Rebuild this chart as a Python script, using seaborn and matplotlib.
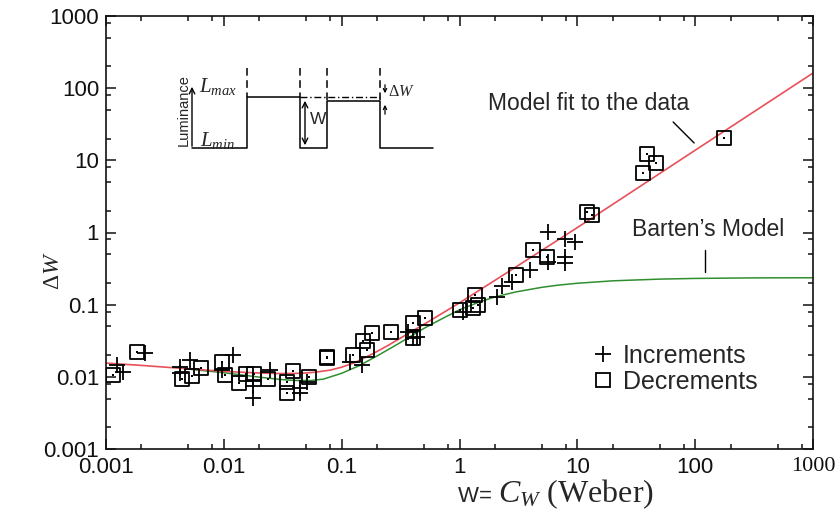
import numpy as np
import pandas as pd
import seaborn as sns
import matplotlib.pyplot as plt
from matplotlib.lines import Line2D
from matplotlib.ticker import LogLocator, NullFormatter

sns.set_style("ticks")
plt.rcParams['font.family'] = ['Liberation Sans', 'DejaVu Sans']
plt.rcParams['mathtext.fontset'] = 'custom'
plt.rcParams['mathtext.rm'] = 'Liberation Serif'
plt.rcParams['mathtext.it'] = 'Liberation Serif:italic'

# model curves
red_w = [0.001, 0.002, 0.005, 0.01, 0.02, 0.03, 0.045, 0.06, 0.08, 0.1, 0.13, 0.185, 0.25,
         0.35, 0.5, 0.7, 1, 2.2, 10, 100, 1000]
red_dw = [0.0155, 0.0144, 0.0129, 0.0119, 0.0113, 0.0111, 0.0112, 0.0116, 0.0124, 0.0136, 0.0158, 0.021, 0.0275,
          0.038, 0.0535, 0.0745, 0.106, 0.24, 1.17, 13.8, 162]
green_w = [0.005, 0.01, 0.015, 0.02, 0.03, 0.04, 0.055, 0.07, 0.1, 0.14, 0.2, 0.3, 0.5, 0.7, 1,
           1.5, 2, 3, 5, 7, 10, 20, 50, 100, 300, 1000]
green_dw = [0.0128, 0.0114, 0.0105, 0.0099, 0.0092, 0.0089, 0.0089, 0.0093, 0.0112, 0.0142, 0.0195, 0.0285, 0.047, 0.063, 0.085,
            0.11, 0.128, 0.15, 0.174, 0.187, 0.198, 0.214, 0.226, 0.231, 0.235, 0.236]

# decrements (squares)
dec_w = [0.00115, 0.00183, 0.00442, 0.00537, 0.0064, 0.00966, 0.0102, 0.01346, 0.0154, 0.018,
         0.0237, 0.0344, 0.0344, 0.0386, 0.0528, 0.0752, 0.0752, 0.125, 0.152, 0.181,
         0.164, 0.262, 0.404, 0.51, 0.404, 1.01, 1.36, 1.44, 1.30, 3.02,
         4.22, 5.54, 12.1, 13.4, 36.2, 39.2, 46.7, 176]
dec_dw = [0.0107, 0.0222, 0.0094, 0.0103, 0.0133, 0.0161, 0.0107, 0.00826, 0.0110, 0.0110,
          0.0094, 0.00853, 0.0060, 0.0121, 0.0100, 0.0183, 0.0190, 0.0202, 0.0315, 0.0407,
          0.0237, 0.042, 0.056, 0.0656, 0.0347, 0.0847, 0.137, 0.099, 0.090, 0.259,
          0.574, 0.459, 1.93, 1.75, 6.69, 12.3, 9.2, 20.4]

# increments (plus signs)
inc_w = [0.00124, 0.00139, 0.00214, 0.00425, 0.00425, 0.00516, 0.012, 0.00966, 0.0177, 0.0177,
         0.0177, 0.0247, 0.0444, 0.0444, 0.0508, 0.118, 0.149, 0.367, 0.436, 0.404,
         1.07, 2.08, 2.30, 2.8, 3.97, 5.65, 7.87, 9.57, 5.65, 7.87, 7.87]
inc_dw = [0.0147, 0.0117, 0.0215, 0.0138, 0.0114, 0.0172, 0.0202, 0.0125, 0.0091, 0.0075,
          0.0051, 0.0125, 0.00705, 0.0060, 0.00853, 0.0161, 0.0147, 0.042, 0.0358, 0.0347,
          0.0794, 0.128, 0.182, 0.207, 0.303, 1.02, 0.815, 0.741, 0.392, 0.459, 0.379]

decades = [0.001, 0.01, 0.1, 1, 10, 100, 1000]
tick_labels = ["0.001", "0.01", "0.1", "1", "10", "100", "1000"]

fig = plt.figure(figsize=(8.4, 5.16), dpi=100)
ax = fig.add_axes([106/840, 1-449/516, 707/840, 433/516])

sns.lineplot(x=green_w, y=green_dw, color='#2f8f2f', linewidth=1.1, sort=False, estimator=None, ax=ax)
sns.lineplot(x=red_w, y=red_dw, color='#e8505a', linewidth=1.2, sort=False, estimator=None, ax=ax)
sns.scatterplot(x=inc_w, y=inc_dw, marker='+', color='black', s=120, linewidth=1.3, ax=ax, zorder=3)
sns.scatterplot(x=dec_w, y=dec_dw, marker='s', facecolor='none', edgecolor='black', s=100, linewidth=1.3, ax=ax, zorder=3)
sns.scatterplot(x=dec_w, y=dec_dw, marker='s', color='black', s=2, linewidth=0, ax=ax, zorder=4)

ax.set_xscale('log')
ax.set_yscale('log')
ax.set_xlim(0.001, 1000)
ax.set_ylim(0.001, 1000)
ax.set_xticks(decades)
ax.set_xticklabels(tick_labels)
ax.set_yticks(decades)
ax.set_yticklabels(tick_labels)
ax.xaxis.set_minor_locator(LogLocator(base=10, subs=[2, 5, 8]))
ax.yaxis.set_minor_locator(LogLocator(base=10, subs=[2, 5, 8]))
ax.xaxis.set_minor_formatter(NullFormatter())
ax.yaxis.set_minor_formatter(NullFormatter())
ax.tick_params(which='both', direction='in', top=True, right=True, width=1.1, labelsize=16, colors='#111111')
ax.tick_params(which='major', length=7)
ax.tick_params(which='minor', length=3.5)
ax.tick_params(axis='x', pad=6)
ax.tick_params(axis='y', pad=5)
for sp in ax.spines.values():
    sp.set_linewidth(1.2)
    sp.set_color('#111111')
ax.get_xticklabels()[-1].set_family('Liberation Serif')

ax.set_ylabel(r"$\Delta W$", fontsize=17)
ax.yaxis.set_label_coords(-0.06, 0.413)
ax.set_xlabel(r"$C_W$ (Weber)", fontsize=23, family='Liberation Serif')
ax.xaxis.set_label_coords(0.665, -0.066)
ax.annotate("W= ", xy=(0, 0.45), xycoords=ax.xaxis.label, ha='right', va='center', fontsize=16)

# labels for the two model curves
ax.text(1.75, 62, "Model fit to the data", fontsize=16.5, va='center', ha='left')
ax.plot([65, 98], [34, 17.4], color='black', linewidth=1)
ax.text(29, 1.09, "Barten\u2019s Model", fontsize=16.5, va='center', ha='left')
ax.plot([122, 122], [0.574, 0.284], color='black', linewidth=1)

leg_handles = [Line2D([], [], marker='+', color='black', linestyle='none', markersize=11, markeredgewidth=1.3),
               Line2D([], [], marker='s', markerfacecolor='none', markeredgecolor='black', linestyle='none',
                      markersize=10, markeredgewidth=1.3)]
ax.legend(leg_handles, ["Increments", "Decrements"], loc='center left', bbox_to_anchor=(0.671, 0.185),
          frameon=False, fontsize=18, handlelength=0.8, handletextpad=0.4, labelspacing=0.1, borderpad=0)

# inset schematic of the stimulus (drawn in its own pixel-like frame)
ins = fig.add_axes([165/840, 1-155/516, 275/840, 115/516])
ins.set_xlim(165, 440)
ins.set_ylim(155, 40)
ins.axis('off')
step_x = [192, 247, 247, 300, 300, 327, 327, 380, 380, 433]
step_y = [148, 148, 97, 97, 148, 148, 101, 101, 148, 148]
ins.plot(step_x, step_y, color='black', linewidth=1.1)
for xv, yb in [(247, 97), (300, 97), (327, 101), (380, 101)]:
    ins.plot([xv, xv], [68, yb], color='black', linewidth=1.1, dashes=(5, 3))
ins.plot([300, 380], [97, 97], color='black', linewidth=1.0, dashes=(5, 2, 1, 2))
ins.annotate("", xy=(192, 84), xytext=(192, 149), arrowprops=dict(arrowstyle='->', lw=1.0, color='black'))
ins.annotate("", xy=(305, 98), xytext=(305, 148), arrowprops=dict(arrowstyle='<->', lw=1.0, color='black'))
ins.annotate("", xy=(385, 96), xytext=(385, 82), arrowprops=dict(arrowstyle='->', lw=0.9, color='black', mutation_scale=6))
ins.annotate("", xy=(385, 102), xytext=(385, 117), arrowprops=dict(arrowstyle='->', lw=0.9, color='black', mutation_scale=6))
ins.text(184, 110, "Luminance", rotation=90, ha='center', va='center', fontsize=10.5)
ins.text(199, 87, r"$L_{max}$", ha='left', va='center', fontsize=15)
ins.text(200, 141, r"$L_{min}$", ha='left', va='center', fontsize=15)
ins.text(310, 120, "W", ha='left', va='center', fontsize=12.5)
ins.text(388, 92, r"$\Delta W$", ha='left', va='center', fontsize=11.5)

fig.savefig("out.png", dpi=100)
